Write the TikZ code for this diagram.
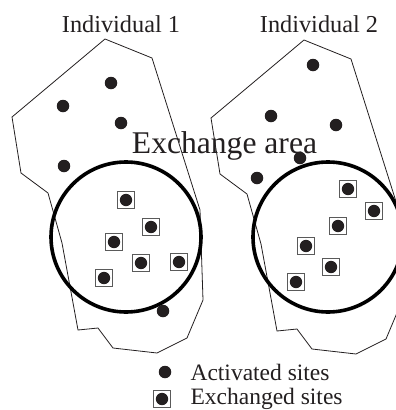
\documentclass[tikz,border=0pt]{standalone}
\usepackage{fontspec}
\setmainfont{Liberation Serif}
\definecolor{inkblack}{HTML}{231F20}
\definecolor{boxgray}{HTML}{5A5A5A}

\begin{document}
\begin{tikzpicture}[
    x=1pt, y=-1pt,
    outline/.style={draw=inkblack, line width=0.8pt, line join=miter},
    area/.style={
      circle, draw=black, line width=3.6pt,
      minimum size=150pt, inner sep=0pt,
    },
    actsite/.style={
      circle, fill=inkblack,
      minimum size=12.5pt, inner sep=0pt,
    },
    exsite/.style={
      rectangle, draw=boxgray, line width=1.2pt,
      minimum size=16.5pt, inner sep=0pt,
      path picture={\fill[inkblack] (path picture bounding box.center) circle (6.2pt);},
    },
    indlab/.style={font=\fontsize{24.3}{28}\selectfont, text=inkblack, anchor=base},
    arealab/.style={font=\fontsize{31.6}{36}\selectfont, text=inkblack, anchor=base},
    leglab/.style={font=\fontsize{23.5}{27}\selectfont, text=inkblack, anchor=base west},
  ]
  \useasboundingbox (0,0) rectangle (396,410);
  \clip (0,0) rectangle (396,410);

  % --- outlines of the two individuals ---
  \foreach \ind/\dx/\dy in {1/0/0, 2/199/1} {
    \begin{scope}[shift={(\dx,\dy)}]
      \draw[outline] (105,39) -- (152,58) -- (200,210) -- (203,300)
        -- (187,338) -- (157,353) -- (113,348) -- (98,328) -- (78,330)
        -- (62,243) -- (48,193) -- (21,173) -- (12,117) -- cycle;
    \end{scope}
  }

  % --- labels ---
  \node[indlab] (ind1) at (121,32) {Individual 1};
  \node[indlab] (ind2) at (319,32) {Individual 2};
  \node[arealab] (exlab) at (224.5,153) {Exchange area};

  % --- exchange areas ---
  \node[area] (ex1) at (126,237) {};
  \node[area] (ex2) at (328,237) {};

  % --- activated sites ---
  \foreach \n/\x/\y in {1/111/83, 2/63/106, 3/121/123, 4/64/166, 5/163/311,
                        6/313/65, 7/271/116, 8/336/125, 9/300/158, 10/257/178} {
    \node[actsite] (act\n) at (\x,\y) {};
  }

  % --- exchanged sites ---
  \foreach \n/\x/\y in {1/126/200, 2/151/227, 3/114/242, 4/141/263, 5/179/262, 6/104/278,
                        7/348/189, 8/374/211, 9/338/226, 10/306/246, 11/331/267, 12/296/282} {
    \node[exsite] (exs\n) at (\x,\y) {};
  }

  % --- legend ---
  \node[actsite] (legact) at (165,372) {};
  \node[leglab] (legacttxt) at (187,380) {Activated sites};
  \node[exsite] (legexs) at (162,399) {};
  \node[leglab] (legexstxt) at (187,404.5) {Exchanged sites};

\end{tikzpicture}
\end{document}
